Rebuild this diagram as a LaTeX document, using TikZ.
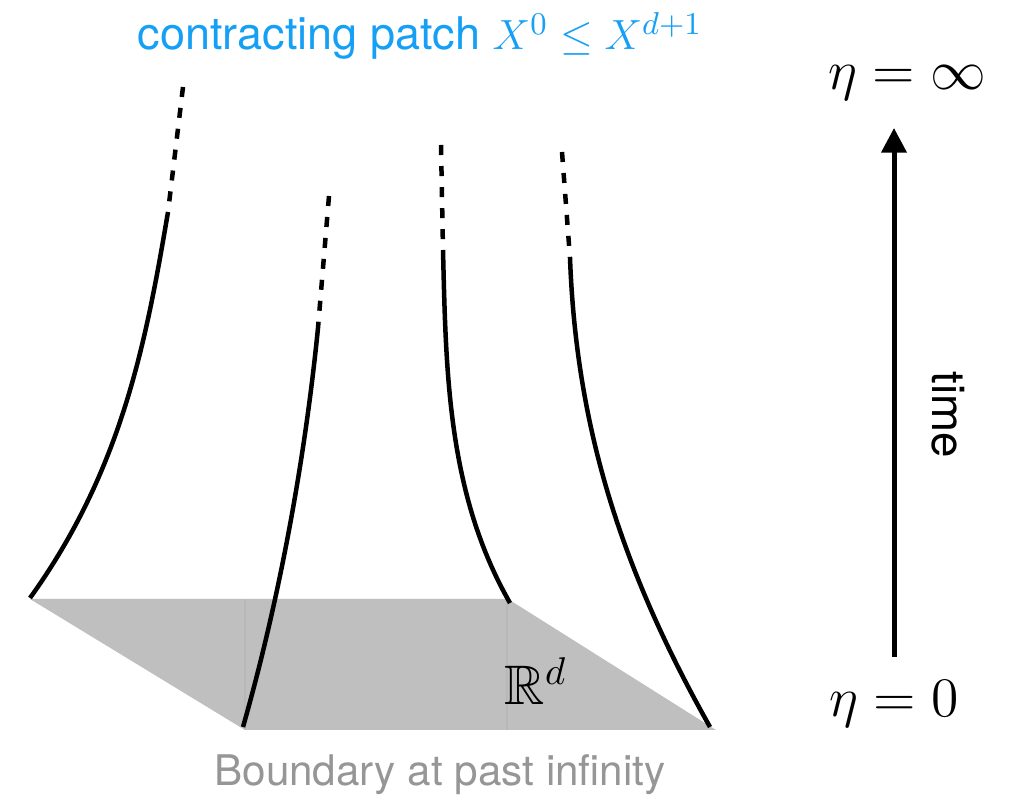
\documentclass[tikz,border=0pt]{standalone}
\usepackage{amssymb}
\usepackage{fontspec}
\setsansfont{TeX Gyre Heros}
\usetikzlibrary{arrows.meta}

\definecolor{patchblue}{RGB}{22,160,245}
\definecolor{bndgray}{RGB}{150,150,150}
\definecolor{slabgray}{RGB}{191,191,191}
\definecolor{seamgray}{RGB}{184,184,184}
\newcommand{\etafont}{\fontsize{14.4}{17}\selectfont}

\tikzset{
  worldline/.style={line width=1.28pt, line cap=butt},
  farline/.style={worldline, dash pattern=on 2.85pt off 3.13pt},
}

\begin{document}
\begin{tikzpicture}[x=0.01cm, y=-0.01cm, line width=0.5pt]
  \useasboundingbox (0,0) rectangle (1012,801);
  % rand bij eta = 0
  \coordinate (bl) at (30,599);
  \coordinate (br) at (508,599);
  \coordinate (fr) at (716,730);
  \coordinate (fl) at (245,730);
  \fill[slabgray] (bl) -- (br) -- (fr) -- (fl) -- cycle;
  \draw[seamgray, line width=0.3pt] (245,599) -- (245,730);
  \draw[seamgray, line width=0.3pt] (507,599) -- (507,730);
  % wereldlijnen
  \draw[worldline] (30,598) .. controls (122,470) and (146,342) .. (168,212);
  \draw[worldline] (243,727) .. controls (280,597) and (305,458) .. (318,328);
  \draw[worldline] (510,603) .. controls (447,493) and (446,370) .. (443,250);
  \draw[worldline] (710,727) .. controls (617,562) and (576,420) .. (570,258);
  % gestippeld naar eta = oneindig
  \draw[farline] (183,87) -- (168,212);
  \draw[farline] (329,196) -- (318,328);
  \draw[farline] (441,145) -- (443,250);
  \draw[farline] (562,152) -- (570,258);
  % tijdas
  \coordinate (tbot) at (894,657);
  \coordinate (ttop) at (894,128);
  \draw[-{Triangle[length=7pt, width=7pt]}, line width=1.42pt] (tbot) -- (ttop);
  \node[anchor=base, scale=1.1] (etainf) at (907,90) {\etafont$\eta=\infty$};
  \node[anchor=base, scale=1.1] (etazero) at (894,717) {\etafont$\eta=0$};
  \node[rotate=-90, font=\sffamily\fontsize{13}{16}\selectfont] (time) at (948,415) {time};
  % teksten
  \node[anchor=base, text=patchblue, font=\sffamily\fontsize{12.8}{16}\selectfont] (patch) at (420,50) {contracting patch $X^0\leq X^{d+1}$};
  \node[anchor=base, scale=1.1] (rd) at (536,705) {\etafont$\mathbb{R}^d$};
  \node[anchor=base, text=bndgray, font=\sffamily\fontsize{12}{14}\selectfont] (bnd) at (440,786) {Boundary at past infinity};
\end{tikzpicture}
\end{document}
